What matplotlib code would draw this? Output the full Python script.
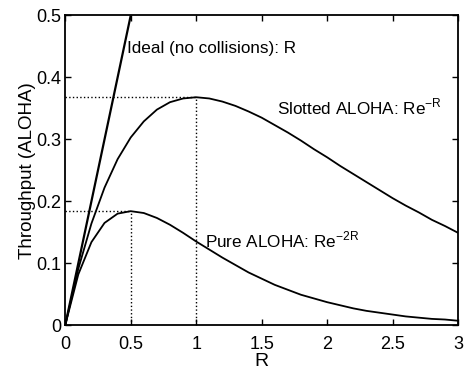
import matplotlib
matplotlib.use("Agg")
import matplotlib.pyplot as plt

plt.rcParams["font.family"] = ["Liberation Sans", "DejaVu Sans"]

# offered load R, sampled every 0.1
R = [0.0, 0.1, 0.2, 0.3, 0.4, 0.5, 0.6, 0.7, 0.8, 0.9, 1.0,
     1.1, 1.2, 1.3, 1.4, 1.5, 1.6, 1.7, 1.8, 1.9, 2.0,
     2.1, 2.2, 2.3, 2.4, 2.5, 2.6, 2.7, 2.8, 2.9, 3.0]
slotted = [0.000, 0.091, 0.164, 0.222, 0.268, 0.303, 0.329, 0.348, 0.360, 0.366, 0.368,
           0.366, 0.361, 0.354, 0.345, 0.335, 0.323, 0.311, 0.298, 0.284, 0.271,
           0.257, 0.244, 0.231, 0.218, 0.205, 0.193, 0.182, 0.170, 0.160, 0.149]
pure = [0.000, 0.082, 0.134, 0.165, 0.180, 0.184, 0.181, 0.173, 0.162, 0.149, 0.135,
        0.122, 0.109, 0.097, 0.085, 0.075, 0.065, 0.057, 0.049, 0.043, 0.037,
        0.032, 0.027, 0.023, 0.020, 0.017, 0.014, 0.012, 0.010, 0.009, 0.007]
ideal_R = [0.0, 0.5]
ideal = [0.0, 0.5]

# maxima marked with dotted guides
peak_R = [1.0, 0.5]
peak_S = [0.368, 0.184]

fig = plt.figure(figsize=(4.66, 3.69), dpi=100)
ax = fig.add_axes([0.140, 0.119, 0.843, 0.839])

ax.plot(ideal_R, ideal, color="black", lw=1.6, solid_capstyle="butt")
ax.plot(R, slotted, color="black", lw=1.3)
ax.plot(R, pure, color="black", lw=1.3)
for pr, ps in zip(peak_R, peak_S):
    ax.plot([0, pr], [ps, ps], color="black", ls=":", lw=1.0)
    ax.plot([pr, pr], [0, ps], color="black", ls=":", lw=1.0)

fs = 12.3
ax.text(0.47, 0.4475, "Ideal (no collisions): R", fontsize=fs, va="center")
ax.text(1.615, 0.352, "Slotted ALOHA: Re$^{\\mathregular{-R}}$", fontsize=fs, va="center")
ax.text(1.07, 0.137, "Pure ALOHA: Re$^{\\mathregular{-2R}}$", fontsize=fs, va="center")

ax.set_xlim(0, 3)
ax.set_ylim(0, 0.5)
ax.set_xticks([0, 0.5, 1, 1.5, 2, 2.5, 3])
ax.set_xticklabels(["0", "0.5", "1", "1.5", "2", "2.5", "3"])
ax.set_yticks([0, 0.1, 0.2, 0.3, 0.4, 0.5])
ax.set_yticklabels(["0", "0.1", "0.2", "0.3", "0.4", "0.5"])
ax.tick_params(direction="in", top=True, right=True, length=4, width=1,
               labelsize=13)
ax.tick_params(axis="x", pad=8)
ax.tick_params(axis="y", pad=3)
for s in ax.spines.values():
    s.set_linewidth(1.3)
ax.set_xlabel("R", fontsize=14, labelpad=0)
ax.set_ylabel("Throughput (ALOHA)", fontsize=13.5, labelpad=0)

fig.savefig("out.png", dpi=100)
